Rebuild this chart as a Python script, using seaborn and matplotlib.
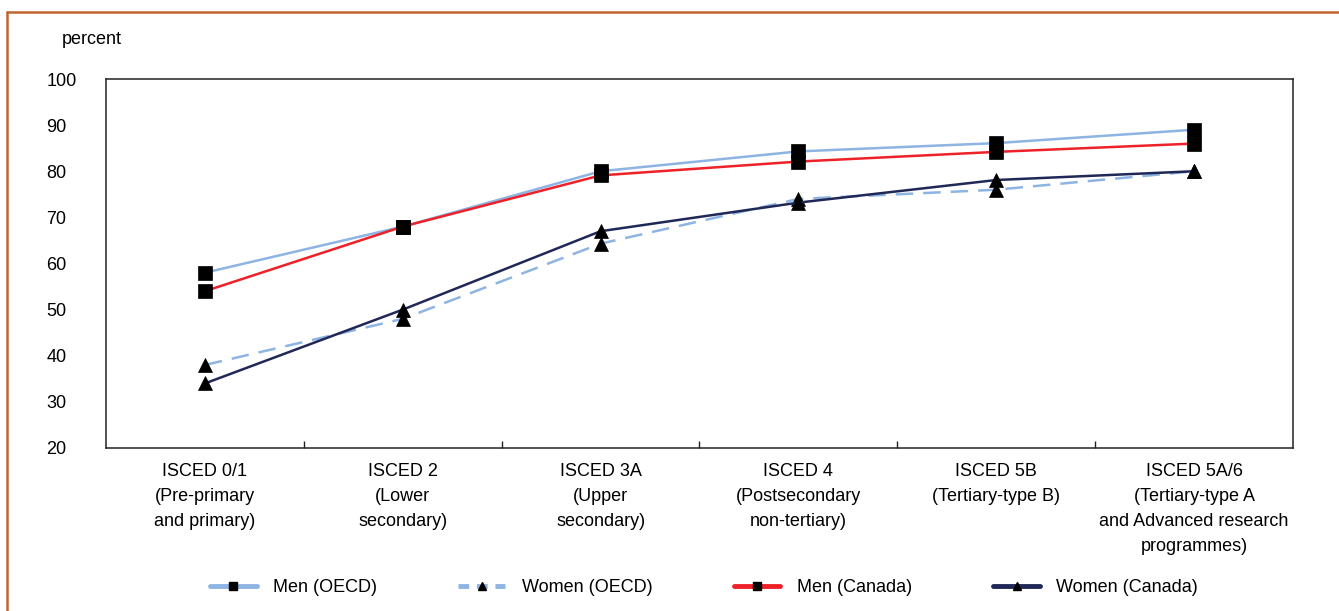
import pandas as pd
import matplotlib
matplotlib.use("Agg")
import matplotlib.pyplot as plt
from matplotlib.lines import Line2D
import seaborn as sns

# categories along the x axis
levels = [
    "ISCED 0/1\n(Pre-primary\nand primary)",
    "ISCED 2\n(Lower\nsecondary)",
    "ISCED 3A\n(Upper\nsecondary)",
    "ISCED 4\n(Postsecondary\nnon-tertiary)",
    "ISCED 5B\n(Tertiary-type B)",
    "ISCED 5A/6\n(Tertiary-type A\nand Advanced research\nprogrammes)",
]

# employment rates, percent
men_oecd = [58, 68, 80, 84.3, 86.1, 89]
women_oecd = [38, 48, 64.3, 74, 76, 80]
men_canada = [54, 68, 79.1, 82.1, 84.2, 86]
women_canada = [34, 50, 67, 73.2, 78.1, 80]

series_names = ["Men (OECD)", "Women (OECD)", "Men (Canada)", "Women (Canada)"]
yticks = [20, 30, 40, 50, 60, 70, 80, 90, 100]

colors = {
    "Men (OECD)": "#8DB4E2",
    "Women (OECD)": "#8DB4E2",
    "Men (Canada)": "#EE2128",
    "Women (Canada)": "#1F2857",
}
markers = {
    "Men (OECD)": "s",
    "Women (OECD)": "^",
    "Men (Canada)": "s",
    "Women (Canada)": "^",
}
dashes = {
    "Men (OECD)": "",
    "Women (OECD)": (7, 4),
    "Men (Canada)": "",
    "Women (Canada)": "",
}

rows = []
for name, vals in zip(series_names, [men_oecd, women_oecd, men_canada, women_canada]):
    for i, v in enumerate(vals):
        rows.append({"pos": i, "value": v, "series": name})
df = pd.DataFrame(rows)

sns.set_theme(style="white")
plt.rcParams["font.family"] = ["Liberation Sans", "DejaVu Sans"]
plt.rcParams["text.color"] = "black"
plt.rcParams["xtick.color"] = "black"
plt.rcParams["ytick.color"] = "black"

fig = plt.figure(figsize=(13.39, 6.11), dpi=100)
ax = fig.add_axes([106 / 1339, 1 - 448 / 611, (1293 - 106) / 1339, (448 - 79) / 611])

sns.lineplot(data=df, x="pos", y="value", hue="series", style="series",
             hue_order=series_names, style_order=series_names,
             palette=colors, markers=markers, dashes=dashes,
             linewidth=1.8, markersize=10, legend=False, ax=ax)

for line in ax.lines:
    line.set_markerfacecolor("black")
    line.set_markeredgecolor("black")
    line.set_markeredgewidth(0.5)

ax.set_xlim(-0.5, 5.5)
ax.set_ylim(20, 100)
ax.set_xlabel("")
ax.set_ylabel("")

ax.set_xticks(range(len(levels)))
ax.set_xticklabels(levels, fontsize=13, linespacing=1.6, va="top")
ax.set_xticks([i + 0.5 for i in range(len(levels) - 1)], minor=True)
ax.tick_params(axis="x", which="major", length=0, pad=11)
ax.tick_params(axis="x", which="minor", direction="in", length=5, width=1, color="#222222", bottom=True)

ax.set_yticks(yticks)
ax.set_yticklabels([str(t) for t in yticks], fontsize=13, ha="left")
ax.tick_params(axis="y", length=0, pad=43)

for sp in ax.spines.values():
    sp.set_visible(True)
    sp.set_color("#222222")
    sp.set_linewidth(1.1)

fig.text(62 / 1339, 1 - 40 / 611, "percent", fontsize=13, va="center", ha="left")

# legend
handles = [
    Line2D([], [], color=colors["Men (OECD)"], lw=3.5, marker="s", ms=6, mfc="black", mec="black"),
    Line2D([], [], color=colors["Women (OECD)"], lw=3.5, ls=(0, (2.2, 1.6)), marker="^", ms=6, mfc="black", mec="black"),
    Line2D([], [], color=colors["Men (Canada)"], lw=3.5, marker="s", ms=6, mfc="black", mec="black"),
    Line2D([], [], color=colors["Women (Canada)"], lw=3.5, marker="^", ms=6, mfc="black", mec="black"),
]
fig.legend(handles, series_names, loc="center", bbox_to_anchor=(704 / 1339, 1 - 588 / 611),
           ncol=4, frameon=False, fontsize=13, handlelength=2.6, handletextpad=0.9,
           columnspacing=4.5)

# orange frame around the figure
fig.add_artist(Line2D([7 / 1339, 1.0], [1 - 12 / 611, 1 - 12 / 611], color="#C0652E", lw=1.8))
fig.add_artist(Line2D([7 / 1339, 7 / 1339], [0.0, 1 - 12 / 611], color="#C0652E", lw=1.8))

fig.savefig("out.png", dpi=100)
